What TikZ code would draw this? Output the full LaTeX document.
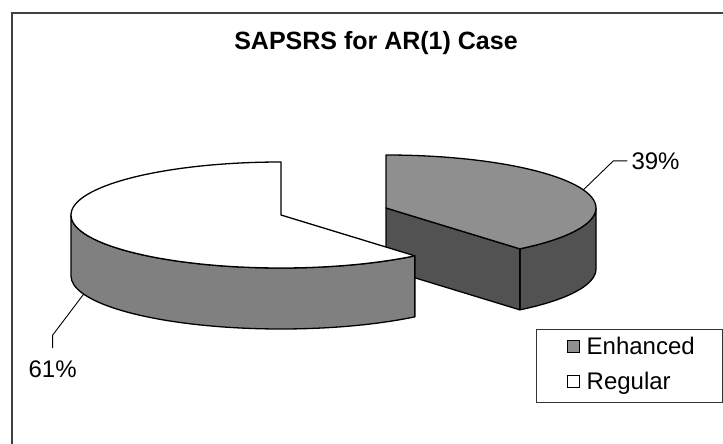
\documentclass[tikz,border=0pt]{standalone}
\usepackage{fontspec}
\setmainfont{Liberation Sans}
\usetikzlibrary{positioning}
\definecolor{enhtop}{gray}{0.56}
\definecolor{enhside}{gray}{0.32}
\definecolor{regside}{gray}{0.5}
\tikzset{
  pierad/.style  = {x radius=210, y radius=53},
  piepart/.style = {draw, line width=1.3pt, line join=round},
  pct/.style     = {font=\fontsize{24}{28}\selectfont, inner sep=0pt},
  leader/.style  = {draw, line width=0.9pt},
  keybox/.style  = {draw, line width=1pt, minimum size=12pt, inner sep=0pt},
  keytext/.style = {font=\fontsize{24}{28}\selectfont, inner sep=0pt,
                    text height=17pt, text depth=0pt}
}

\begin{document}
\begin{tikzpicture}[x=1pt, y=-1pt]
  \useasboundingbox (0,0) rectangle (723,444);
  % chart frame
  \draw[line width=1.3pt, black!75] (12,444) -- (12,13) -- (723,13);
  \node[font=\fontsize{25}{30}\selectfont\bfseries] (title) at (376,43) {SAPSRS for AR(1) Case};

  % Enhanced, pulled out
  \begin{scope}[shift={(386,208)}]
  \path[piepart, fill=enhside] (0:210 and 53) arc[pierad, start angle=0, end angle=50.4]
     -- ++(0,61) arc[pierad, start angle=50.4, end angle=0] -- cycle;
  \path[piepart, fill=enhside] (0,0) -- (50.4:210 and 53) -- ++(0,61) -- (0,61) -- cycle;
  \path[piepart, fill=enhtop] (0,0) -- (270:210 and 53)
     arc[pierad, start angle=270, end angle=410.4] -- cycle;
  \coordinate (tipE) at (-20:210 and 53);
  \end{scope}

  % Regular
  \begin{scope}[shift={(281,215)}]
  \path[piepart, fill=regside] (180:210 and 53) arc[pierad, start angle=180, end angle=50.4]
     -- ++(0,61) arc[pierad, start angle=50.4, end angle=180] -- cycle;
  \path[piepart, fill=white] (0,0) -- (270:210 and 53)
     arc[pierad, start angle=270, end angle=50.4] -- cycle;
  \coordinate[shift={(0,61)}] (tipR) at (160:210 and 53);
  \end{scope}

  % percent labels
  \coordinate (bendE) at ([shift={(30,-29)}]tipE);
  \node[pct, inner xsep=4pt] (lblE) [right=14pt of bendE] {39\%};
  \draw[leader] (tipE) -- (bendE) -- (lblE.west);
  \coordinate (bendR) at ([shift={(-31,41)}]tipR);
  \node[pct, inner ysep=12pt] (lblR) [below=13pt of bendR] {61\%};
  \draw[leader] (tipR) -- (bendR) -- (lblR.north);

  % legend
  \node[draw, line width=1pt, black!80, minimum width=186pt, minimum height=73pt] (legend) at (629,365.5) {};
  \node[keybox, fill=enhtop] (keyE) at (573,346) {};
  \node[keybox, fill=white] (keyR) [below=22pt of keyE] {};
  \node[keytext] (txtE) [right=7pt of keyE] {Enhanced};
  \node[keytext] (txtR) [right=7pt of keyR] {Regular};
\end{tikzpicture}
\end{document}
